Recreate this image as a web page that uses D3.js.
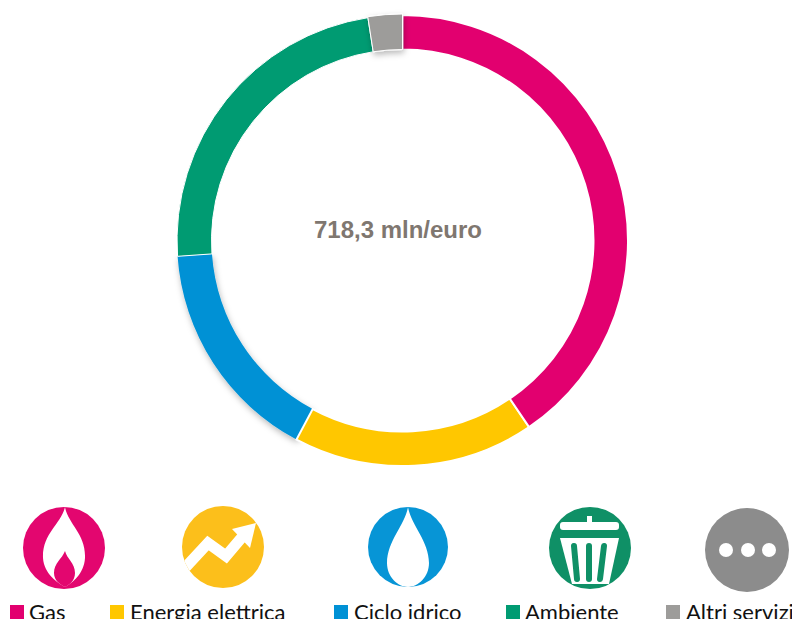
<!DOCTYPE html>
<html>
<head>
<meta charset="utf-8">
<style>html,body{margin:0;padding:0;background:#fff;overflow:hidden}svg{display:block}</style>
<script src="https://cdn.jsdelivr.net/npm/d3@7"></script>
</head>
<body>
<div id="chart"></div>
<script>
const categories = ["Gas", "Energia elettrica", "Ciclo idrico", "Ambiente", "Altri servizi"];
const values = [291.0, 124.1, 115.6, 170.0, 17.6];
const ringColors = ["#E2006F", "#FFC700", "#0091D5", "#009B72", "#9D9C9A"];
const iconColors = ["#E3066F", "#FCBF1B", "#0795D6", "#0F9066", "#8C8C8C"];
const shadowed = [false, false, true, false, true];
const centerLabel = "718,3 mln/euro";

const W = 792, H = 619;
const svg = d3.select("#chart").append("svg").attr("width", W).attr("height", H);

const defs = svg.append("defs");
const f = defs.append("filter").attr("id", "shadow")
  .attr("x", "-30%").attr("y", "-30%").attr("width", "160%").attr("height", "160%");
f.append("feDropShadow").attr("dx", 1).attr("dy", 3).attr("stdDeviation", 3)
  .attr("flood-color", "#000").attr("flood-opacity", 0.28);

const pie = d3.pie().sort(null).value(d => d);
const arcs = pie(values).map((a, i) => ({...a, i}));
const arc = d3.arc().innerRadius(191).outerRadius(d => d.i === 4 ? 226.5 : 225.5);
const ring = svg.append("g").attr("transform", "translate(402.5,240.5)");

// Shadowed slices go first so that neighbours sit on top of their shadow
const order = [2, 3, 1, 0, 4];
ring.selectAll("path").data(order.map(i => arcs[i])).join("path")
  .attr("d", arc)
  .attr("fill", d => ringColors[d.i])
  .attr("stroke", d => d.i === 2 ? "none" : "#fff")
  .attr("stroke-width", d => d.i === 0 || d.i === 1 ? 2 : 1)
  .attr("filter", d => shadowed[d.i] ? "url(#shadow)" : null);

svg.append("text").attr("x", 398).attr("y", 238)
  .attr("text-anchor", "middle")
  .attr("font-family", "'Liberation Sans', Arial, sans-serif")
  .attr("font-weight", 700).attr("font-size", 24)
  .attr("fill", "#7F7770").text(centerLabel);

// Legend
const legendSwatchX = [10, 110, 334, 506, 666];
const legendTextX = [29, 130, 354, 525, 686];
const legend = svg.append("g");
legend.selectAll("rect").data(categories).join("rect")
  .attr("x", (d, i) => legendSwatchX[i]).attr("y", 605)
  .attr("width", 14).attr("height", 14)
  .attr("fill", (d, i) => ringColors[i]);
legend.selectAll("text").data(categories).join("text")
  .attr("x", (d, i) => legendTextX[i]).attr("y", 620)
  .attr("font-family", "Lato, 'Noto Sans', sans-serif")
  .attr("font-size", 22).attr("fill", "#111").text(d => d);

// Icons
const iconX = [64, 223, 408, 590, 747];
const iconY = [548, 547, 547, 548, 550];
const iconR = [41, 41, 40, 41, 42];
const icons = svg.selectAll("g.icon").data(categories).join("g")
  .attr("class", "icon")
  .attr("transform", (d, i) => `translate(${iconX[i]},${iconY[i]})`);
icons.append("clipPath").attr("id", (d, i) => "ic" + i)
  .append("circle").attr("r", (d, i) => iconR[i]);
icons.append("circle").attr("r", (d, i) => iconR[i]).attr("fill", (d, i) => iconColors[i]);
const body = icons.append("g").attr("clip-path", (d, i) => `url(#ic${i})`);

// gas flame
const g0 = body.filter((d, i) => i === 0);
g0.append("path").attr("fill", "#fff")
  .attr("d", "M1,-41 C4,-24 22,-14 21,10 C20,26 8,35 1,39 C-6,35 -20,26 -21,10 C-22,-14 -3,-24 1,-41Z");
g0.append("path").attr("fill", iconColors[0])
  .attr("d", "M1,3 C3,11 11,15 11,25 C11,33 5,37 1,39 C-3,37 -10,33 -10,25 C-10,15 -2,11 1,3Z");

// energy arrow
const g1 = body.filter((d, i) => i === 1);
g1.append("path").attr("fill", "none").attr("stroke", "#fff").attr("stroke-width", 11)
  .attr("d", "M-40,23 L-15,-4 L3,9 L20,-11");
g1.append("path").attr("fill", "#fff").attr("d", "M33,-24 L9,-18 L27,1Z");

// water drop
body.filter((d, i) => i === 2).append("path").attr("fill", "#fff")
  .attr("d", "M0,-40 C3,-22 21,-6 21,16 C21,30 10,40 0,40 C-10,40 -21,30 -21,16 C-21,-6 -3,-22 0,-40Z");

// bin
const g3 = body.filter((d, i) => i === 3);
g3.append("rect").attr("x", -30).attr("y", -26).attr("width", 59).attr("height", 8).attr("rx", 3).attr("fill", "#fff");
g3.append("rect").attr("x", -3).attr("y", -32).attr("width", 5).attr("height", 8).attr("fill", "#fff");
g3.append("path").attr("fill", "#fff").attr("d", "M-30,-10 L29,-10 L19,36 L-18,36Z");
g3.selectAll("line.slot").data([[-16, -13], [-1, -1], [14, 10]]).join("line")
  .attr("x1", d => d[0]).attr("y1", -2).attr("x2", d => d[1]).attr("y2", 31)
  .attr("stroke", iconColors[3]).attr("stroke-width", 6).attr("stroke-linecap", "round");

// dots
body.filter((d, i) => i === 4).selectAll("circle.dot").data([-21, 1, 22]).join("circle")
  .attr("cx", d => d).attr("cy", 0).attr("r", 7).attr("fill", "#fff");
</script>
</body>
</html>
